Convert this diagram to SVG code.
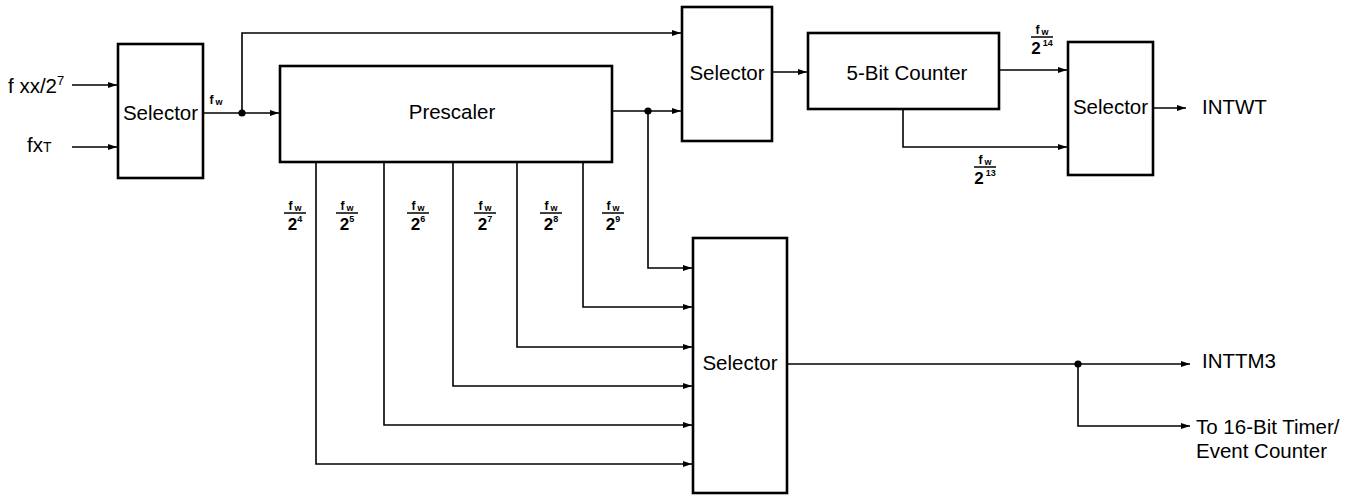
<svg xmlns="http://www.w3.org/2000/svg" width="1366" height="497" viewBox="0 0 1366 497">
<style>
.box{fill:#fff;stroke:#000;stroke-width:2.6}
.lbl{font-family:"Liberation Sans",Arial,sans-serif;font-size:20.5px;fill:#000}
.ln{fill:none;stroke:#000;stroke-width:1.6}
.fr{font-family:"Liberation Sans",Arial,sans-serif;font-weight:bold;fill:#000;text-anchor:middle}
.bar{stroke:#000;stroke-width:1.5}
.dot{fill:#000}
</style>
<defs>
<marker id="ah" markerUnits="userSpaceOnUse" markerWidth="10" markerHeight="8" refX="9" refY="3" orient="auto">
<path d="M0,0 L9,3 L0,6 z" fill="#000"/>
</marker>
<g id="frac">
<line class="bar" x1="-11" y1="0" x2="11" y2="0"/>
</g>
</defs>
<rect width="1366" height="497" fill="#fff"/>

<g id="inputs">
<text class="lbl" x="8" y="93">f xx/2<tspan font-size="13" dy="-8">7</tspan></text>
<text class="lbl" x="27" y="152">fx<tspan font-size="14">T</tspan></text>
</g>

<g id="connectors">
<path class="ln" d="M72,85 H117" marker-end="url(#ah)"/>
<path class="ln" d="M72,147 H117" marker-end="url(#ah)"/>
<path class="ln" d="M203,113 H279" marker-end="url(#ah)"/>
<path class="ln" d="M242,113 V33 H681" marker-end="url(#ah)"/>
<path class="ln" d="M612,111 H681" marker-end="url(#ah)"/>
<path class="ln" d="M648,111 V268 H692" marker-end="url(#ah)"/>
<path class="ln" d="M583,162 V307 H692" marker-end="url(#ah)"/>
<path class="ln" d="M517,162 V347 H692" marker-end="url(#ah)"/>
<path class="ln" d="M453,162 V386 H692" marker-end="url(#ah)"/>
<path class="ln" d="M384,162 V425 H692" marker-end="url(#ah)"/>
<path class="ln" d="M316,162 V464 H692" marker-end="url(#ah)"/>
<path class="ln" d="M772,72 H807" marker-end="url(#ah)"/>
<path class="ln" d="M999,70 H1067" marker-end="url(#ah)"/>
<path class="ln" d="M903,109 V147 H1067" marker-end="url(#ah)"/>
<path class="ln" d="M1153,108 H1186" marker-end="url(#ah)"/>
<path class="ln" d="M787,364 H1190" marker-end="url(#ah)"/>
<path class="ln" d="M1078,364 V426 H1190" marker-end="url(#ah)"/>
<circle class="dot" cx="242" cy="113" r="3.6"/>
<circle class="dot" cx="648" cy="111" r="3.6"/>
<circle class="dot" cx="1078" cy="364" r="3.6"/>
</g>

<g id="selector-in">
<rect class="box" x="118" y="44" width="85" height="134"/>
<text class="lbl" x="160.5" y="120" text-anchor="middle">Selector</text>
</g>
<g id="fw-label">
<text class="fr" x="216" y="104" font-size="12">f<tspan font-size="9" dx="2" dy="1">w</tspan></text>
</g>
<g id="prescaler">
<rect class="box" x="280" y="66" width="332" height="96"/>
<text class="lbl" x="452" y="119" text-anchor="middle">Prescaler</text>
</g>
<g id="selector-top">
<rect class="box" x="682" y="7" width="90" height="134"/>
<text class="lbl" x="727" y="80" text-anchor="middle">Selector</text>
</g>
<g id="counter">
<rect class="box" x="808" y="33" width="191" height="76"/>
<text class="lbl" x="907" y="80" text-anchor="middle">5-Bit Counter</text>
</g>
<g id="selector-right">
<rect class="box" x="1068" y="42" width="85" height="133"/>
<text class="lbl" x="1110.5" y="114" text-anchor="middle">Selector</text>
</g>
<g id="selector-low">
<rect class="box" x="693" y="238" width="94" height="255"/>
<text class="lbl" x="740" y="370" text-anchor="middle">Selector</text>
</g>

<g id="outputs">
<text class="lbl" x="1202" y="114">INTWT</text>
<text class="lbl" x="1202" y="368">INTTM3</text>
<text class="lbl" x="1196" y="434" font-size="21">To 16-Bit Timer/</text>
<text class="lbl" x="1196" y="458" font-size="21">Event Counter</text>
</g>

<g id="fractions">
<g transform="translate(295,213)"><use href="#frac"/><text class="fr" y="-3" font-size="12">f<tspan font-size="9" dx="2" dy="1">w</tspan></text><text class="fr" y="17" font-size="17">2<tspan font-size="9" dy="-8">4</tspan></text></g>
<g transform="translate(347,213)"><use href="#frac"/><text class="fr" y="-3" font-size="12">f<tspan font-size="9" dx="2" dy="1">w</tspan></text><text class="fr" y="17" font-size="17">2<tspan font-size="9" dy="-8">5</tspan></text></g>
<g transform="translate(418,213)"><use href="#frac"/><text class="fr" y="-3" font-size="12">f<tspan font-size="9" dx="2" dy="1">w</tspan></text><text class="fr" y="17" font-size="17">2<tspan font-size="9" dy="-8">6</tspan></text></g>
<g transform="translate(485,213)"><use href="#frac"/><text class="fr" y="-3" font-size="12">f<tspan font-size="9" dx="2" dy="1">w</tspan></text><text class="fr" y="17" font-size="17">2<tspan font-size="9" dy="-8">7</tspan></text></g>
<g transform="translate(551,213)"><use href="#frac"/><text class="fr" y="-3" font-size="12">f<tspan font-size="9" dx="2" dy="1">w</tspan></text><text class="fr" y="17" font-size="17">2<tspan font-size="9" dy="-8">8</tspan></text></g>
<g transform="translate(613,213)"><use href="#frac"/><text class="fr" y="-3" font-size="12">f<tspan font-size="9" dx="2" dy="1">w</tspan></text><text class="fr" y="17" font-size="17">2<tspan font-size="9" dy="-8">9</tspan></text></g>
<g transform="translate(985,167)"><use href="#frac"/><text class="fr" y="-3" font-size="12">f<tspan font-size="9" dx="2" dy="1">w</tspan></text><text class="fr" y="17" font-size="17">2<tspan font-size="9" dy="-8" dx="2">13</tspan></text></g>
<g transform="translate(1042,37)"><use href="#frac"/><text class="fr" y="-3" font-size="12">f<tspan font-size="9" dx="2" dy="1">w</tspan></text><text class="fr" y="17" font-size="17">2<tspan font-size="9" dy="-8" dx="2">14</tspan></text></g>
</g>
</svg>
